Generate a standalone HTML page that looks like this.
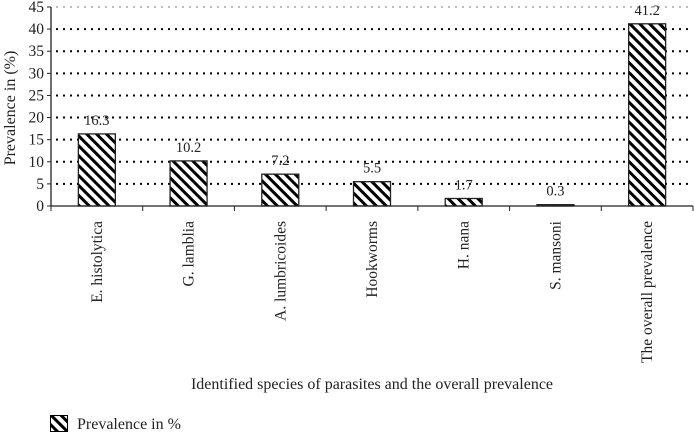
<!DOCTYPE html>
<html><head><meta charset="utf-8"><style>
body{margin:0;background:#fff;width:694px;height:433px;overflow:hidden}
svg{display:block;font-family:"Liberation Serif",serif}
</style></head><body>
<svg id="chart" width="694" height="433">
<defs>
<pattern id="hatch" patternUnits="userSpaceOnUse" width="7" height="7" patternTransform="rotate(-45)">
<rect width="7" height="7" fill="#fff"/><rect x="0" y="0" width="3" height="7" fill="#000"/>
</pattern>
</defs>
<g id="grid"></g><g id="bars"></g><g id="axes"></g>
<text x="0" y="0" transform="translate(15,108) rotate(-90)" text-anchor="middle" font-size="16" fill="#222">Prevalence in (%)</text>
<text x="372" y="389" text-anchor="middle" font-size="16" fill="#222">Identified species of parasites and the overall prevalence</text>
<g>
<rect x="50.5" y="415.5" width="17" height="16" fill="url(#hatch)" stroke="#000"/>
<text x="77" y="429" font-size="16" fill="#222">Prevalence in %</text>
</g>
</svg>
<script>
const categories=["E. histolytica","G. lamblia","A. lumbricoides","Hookworms","H. nana","S. mansoni","The overall prevalence"];
const values=[16.3,10.2,7.2,5.5,1.7,0.3,41.2];
const labels=["16.3","10.2","7.2","5.5","1.7","0.3","41.2"];
const yTicks=[0,5,10,15,20,25,30,35,40,45];
const NS="http://www.w3.org/2000/svg";
const x0=51,x1=693,y0=206,yTop=7,yMax=45;
const bw=(x1-x0)/categories.length;
const y=v=>y0-(v/yMax)*(y0-yTop);
const xc=i=>x0+bw*(i+0.5);
function mk(t,a,p){const e=document.createElementNS(NS,t);for(const k in a)e.setAttribute(k,a[k]);p.appendChild(e);return e;}
const grid=document.getElementById('grid'),bars=document.getElementById('bars'),axes=document.getElementById('axes');
yTicks.forEach(v=>{
 if(v>0){const g=mk('line',{x1:x0+5,x2:x1,y1:y(v),y2:y(v),stroke:v===45?'#bbb':'#000','stroke-width':2,'stroke-dasharray':'2 5'},grid);
 
 }
 const t=mk('line',{x1:x0-4,x2:x0,y1:y(v),y2:y(v),stroke:'#222'},axes);
 
 
 const l=mk('text',{x:x0-7,y:y(v)+5,'text-anchor':'end','font-size':15.5,fill:'#222'},axes);
 l.textContent=v;
 
 
});
values.forEach((v,i)=>{
 const w=37;
 const r=mk('rect',{x:xc(i)-w/2,y:y(v),width:w,height:y0-y(v),fill:'url(#hatch)',stroke:'#222','stroke-width':1.3},bars);
 
 
 const t=mk('text',{x:xc(i),y:y(v)-9,'text-anchor':'middle','font-size':14.5,fill:'#222'},bars);
 t.textContent=labels[i];
 
 
 const c=mk('text',{x:0,y:0,transform:`translate(${xc(i)+5},221) rotate(-90)`,'text-anchor':'end','font-size':15.5,fill:'#222'},axes);
 c.textContent=categories[i];
 
 
});
for(let i=0;i<=categories.length;i++){
 const t=mk('line',{x1:x0+bw*i,x2:x0+bw*i,y1:y0,y2:y0+5,stroke:'#222'},axes);
 
 
}
const xa=mk('line',{x1:x0,x2:x1,y1:y0,y2:y0,stroke:'#222','stroke-width':1.3},axes);


const ya=mk('line',{x1:x0,x2:x0,y1:yTop,y2:y0,stroke:'#222','stroke-width':1.3},axes);


</script>
</body></html>
